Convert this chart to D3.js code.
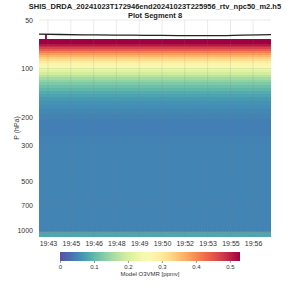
<!DOCTYPE html>
<html>
<head>
<meta charset="utf-8">
<script src="https://cdn.jsdelivr.net/npm/d3@7"></script>
<style>
  body { margin: 0; background: #fff; }
  text { font-family: "Liberation Sans", Arial, sans-serif; }
</style>
</head>
<body>
<script>
// chart data
var titleLines = ["SHIS_DRDA_20241023T172946end20241023T225956_rtv_npc50_m2.h5", "Plot Segment 8"];
var timeStart = "19:43:09";
var timeEnd = "19:57:51";
var xTickTimes = ["19:43:43", "19:45:10", "19:46:37", "19:48:03", "19:49:30", "19:50:57", "19:52:23", "19:53:50", "19:55:17", "19:56:43"];
var yTicks = [50, 100, 200, 300, 500, 700, 1000];

// pressure band edges (hPa) and model O3 (ppmv) for each band
var pressureEdges = [66, 68, 70, 72, 74, 76, 78, 80, 82.5, 85, 87.5, 90, 93, 96, 99, 102, 105, 109, 113, 117, 121,
  126, 131, 137, 143, 150, 158, 167, 177, 190, 205, 222, 240, 262, 290, 330, 380, 450, 550, 680, 850, 1030, 1090];
var o3Values = [0.53, 0.53, 0.51, 0.49, 0.47, 0.44, 0.41, 0.385, 0.36, 0.335, 0.315, 0.295, 0.275, 0.255, 0.235,
  0.215, 0.195, 0.172, 0.153, 0.138, 0.124, 0.11, 0.098, 0.087, 0.078, 0.07, 0.063, 0.058, 0.053, 0.048, 0.045,
  0.044, 0.045, 0.047, 0.049, 0.05, 0.05, 0.05, 0.05, 0.05, 0.05, 0.08];

// aircraft pressure line
var flightTimes = ["19:43:09", "19:44:30", "19:46:00", "19:48:00", "19:50:00", "19:52:00", "19:54:00", "19:56:00", "19:57:51"];
var flightPressure = [61.2, 61.5, 61.8, 62.0, 62.2, 62.4, 62.5, 62.1, 61.6];

// one column that reaches up to the aircraft
var spikeTimes = ["19:43:32", "19:43:39"];
var spikeValue = 0.53;

var surfacePressure = 1028;
var cbTicks = [0, 0.1, 0.2, 0.3, 0.4, 0.5];
var cbMax = 0.53;

function toDate(s) {
  var p = s.split(":").map(Number);
  return new Date(Date.UTC(2024, 9, 23, p[0], p[1], p[2]));
}

var svg = d3.select("body").append("svg")
  .attr("width", 300)
  .attr("height", 300);

var plot = { left: 39, right: 271, top: 20, bottom: 236 };

var xScale = d3.scaleUtc()
  .domain([toDate(timeStart), toDate(timeEnd)])
  .range([plot.left, plot.right]);

var yScale = d3.scaleLog()
  .domain([50, 1090])
  .range([plot.top, plot.bottom]);

var color = d3.scaleSequential(function(t) { return d3.interpolateSpectral(1 - t); })
  .domain([0, cbMax]);

// title
svg.append("text")
  .attr("x", 155).attr("y", 9)
  .attr("text-anchor", "middle")
  .style("font-size", "7.5px").style("font-weight", "bold")
  .attr("fill", "#222")
  .text(titleLines[0]);
svg.append("text")
  .attr("x", 155).attr("y", 18)
  .attr("text-anchor", "middle")
  .style("font-size", "7.5px").style("font-weight", "bold")
  .attr("fill", "#222")
  .text(titleLines[1]);

// heatmap bands
var bands = o3Values.map(function(v, i) {
  return { top: pressureEdges[i], bottom: pressureEdges[i + 1], value: v };
});

svg.append("g").attr("shape-rendering", "crispEdges").selectAll("rect")
  .data(bands)
  .enter().append("rect")
  .attr("x", plot.left)
  .attr("width", plot.right - plot.left)
  .attr("y", function(d) { return yScale(d.top); })
  .attr("height", function(d) { return yScale(d.bottom) - yScale(d.top) + 0.6; })
  .attr("fill", function(d) { return color(d.value); });

// spike column
var spikeTop = d3.min(flightPressure);
svg.append("rect")
  .attr("x", xScale(toDate(spikeTimes[0])))
  .attr("width", xScale(toDate(spikeTimes[1])) - xScale(toDate(spikeTimes[0])))
  .attr("y", yScale(spikeTop))
  .attr("height", yScale(pressureEdges[0]) - yScale(spikeTop))
  .attr("fill", color(spikeValue));

// grid
var grid = svg.append("g").attr("stroke", "#808080").attr("stroke-opacity", 0.2).attr("stroke-width", 0.8);
grid.selectAll("line.v")
  .data(xTickTimes)
  .enter().append("line")
  .attr("x1", function(d) { return xScale(toDate(d)); })
  .attr("x2", function(d) { return xScale(toDate(d)); })
  .attr("y1", plot.top).attr("y2", plot.bottom);
grid.selectAll("line.h")
  .data(yTicks)
  .enter().append("line")
  .attr("x1", plot.left).attr("x2", plot.right)
  .attr("y1", function(d) { return yScale(d); })
  .attr("y2", function(d) { return yScale(d); });

// aircraft line
var line = d3.line()
  .x(function(d, i) { return xScale(toDate(flightTimes[i])); })
  .y(function(d) { return yScale(d); })
  .curve(d3.curveMonotoneX);
svg.append("path")
  .datum(flightPressure)
  .attr("d", line)
  .attr("fill", "none")
  .attr("stroke", "#222")
  .attr("stroke-width", 1.3);

// surface line
svg.append("line")
  .attr("x1", plot.left).attr("x2", plot.right)
  .attr("y1", yScale(surfacePressure)).attr("y2", yScale(surfacePressure))
  .attr("stroke", "#8a8a8a")
  .attr("stroke-width", 1.3)
  .attr("stroke-dasharray", "1.5,1.5");

// axes
var xAxis = d3.axisBottom(xScale)
  .tickValues(xTickTimes.map(toDate))
  .tickFormat(d3.utcFormat("%H:%M"))
  .tickSize(0).tickPadding(5);
var gx = svg.append("g")
  .attr("transform", "translate(0," + plot.bottom + ")")
  .call(xAxis);
gx.select(".domain").remove();
gx.selectAll("text").style("font-size", "7px").attr("fill", "#333");

var yAxis = d3.axisLeft(yScale)
  .tickValues(yTicks)
  .tickFormat(d3.format("d"))
  .tickSize(0).tickPadding(6);
var gy = svg.append("g")
  .attr("transform", "translate(" + plot.left + ",0)")
  .call(yAxis);
gy.select(".domain").remove();
gy.selectAll("text").style("font-size", "7px").attr("fill", "#333");

svg.append("text")
  .attr("transform", "translate(19," + ((plot.top + plot.bottom) / 2) + ") rotate(-90)")
  .attr("text-anchor", "middle")
  .style("font-size", "7px")
  .attr("fill", "#333")
  .text("P (hPa)");

// colorbar
var cb = { x0: 60, x1: 240, y: 252, h: 9 };
var cbScale = d3.scaleLinear().domain([0, cbMax]).range([cb.x0, cb.x1]);
var grad = svg.append("defs").append("linearGradient")
  .attr("id", "cbgrad").attr("x1", "0%").attr("x2", "100%");
grad.selectAll("stop")
  .data(d3.range(0, 1.0001, 0.05))
  .enter().append("stop")
  .attr("offset", function(d) { return (d * 100) + "%"; })
  .attr("stop-color", function(d) { return color(d * cbMax); });
svg.append("rect")
  .attr("x", cb.x0).attr("y", cb.y)
  .attr("width", cb.x1 - cb.x0).attr("height", cb.h)
  .attr("fill", "url(#cbgrad)");

var cbAxis = d3.axisBottom(cbScale)
  .tickValues(cbTicks)
  .tickFormat(function(d) { return d === 0 ? "0" : d3.format(".1f")(d); })
  .tickSize(2).tickPadding(2);
var gc = svg.append("g")
  .attr("transform", "translate(0," + (cb.y + cb.h) + ")")
  .call(cbAxis);
gc.select(".domain").remove();
gc.selectAll("line").attr("stroke", "#999");
gc.selectAll("text").style("font-size", "6px").attr("fill", "#333");

svg.append("text")
  .attr("x", 150).attr("y", 276)
  .attr("text-anchor", "middle")
  .style("font-size", "6px")
  .attr("fill", "#333")
  .text("Model O3VMR [ppmv]");
</script>
</body>
</html>
